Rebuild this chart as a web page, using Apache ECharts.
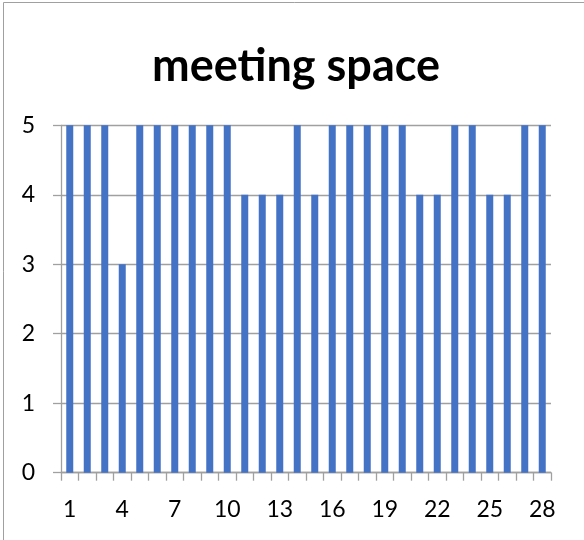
<!DOCTYPE html>
<html>
<head>
<meta charset="utf-8">
<script src="https://cdn.jsdelivr.net/npm/echarts@6/dist/echarts.min.js"></script>
<style>
html,body{margin:0;padding:0;background:#fff;}
#chart{width:584px;height:540px;}
</style>
</head>
<body>
<div id="chart"></div>
<script>
const titleText = 'meeting space';
const categories = ['1','2','3','4','5','6','7','8','9','10','11','12','13','14','15','16','17','18','19','20','21','22','23','24','25','26','27','28'];
const values = [5,5,5,3,5,5,5,5,5,5,4,4,4,5,4,5,5,5,5,5,4,4,5,5,4,4,5,5];
const yTicks = {min: 0, max: 5, interval: 1};

const chart = echarts.init(document.getElementById('chart'), null, {renderer: 'canvas'});
chart.setOption({
  animation: false,
  backgroundColor: '#fff',
  title: {
    text: titleText,
    left: 147,
    top: 39,
    textStyle: {fontFamily: 'Lato', fontWeight: 'bold', fontSize: 45, color: '#000'}
  },
  graphic: [{
    type: 'rect',
    shape: {x: 3.5, y: 2.5, width: 1000, height: 1000},
    style: {fill: 'none', stroke: '#a0a0a0', lineWidth: 1},
    silent: true
  }],
  grid: {left: 61, right: 33, top: 125.3, bottom: 67.3, containLabel: false},
  xAxis: {
    type: 'category',
    data: categories,
    boundaryGap: true,
    axisLine: {show: true, lineStyle: {color: '#a0a0a0', width: 1.3}},
    axisTick: {show: true, interval: 0, length: 8, alignWithLabel: false, lineStyle: {color: '#a0a0a0', width: 1.3}},
    axisLabel: {interval: 2, margin: 25, fontFamily: 'Lato', fontSize: 23, color: '#000'},
    splitLine: {show: false}
  },
  yAxis: {
    type: 'value',
    min: yTicks.min, max: yTicks.max, interval: yTicks.interval,
    axisLine: {show: true, lineStyle: {color: '#a0a0a0', width: 1.3}},
    axisTick: {show: true, length: 8, lineStyle: {color: '#a0a0a0', width: 1.3}},
    axisLabel: {margin: 26, fontFamily: 'Lato', fontSize: 23, color: '#000'},
    splitLine: {show: true, lineStyle: {color: '#a0a0a0', width: 1.3}}
  },
  series: [{
    type: 'bar',
    data: values,
    barWidth: '40%',
    itemStyle: {color: '#4472C4'}
  }]
});
</script>
</body>
</html>
